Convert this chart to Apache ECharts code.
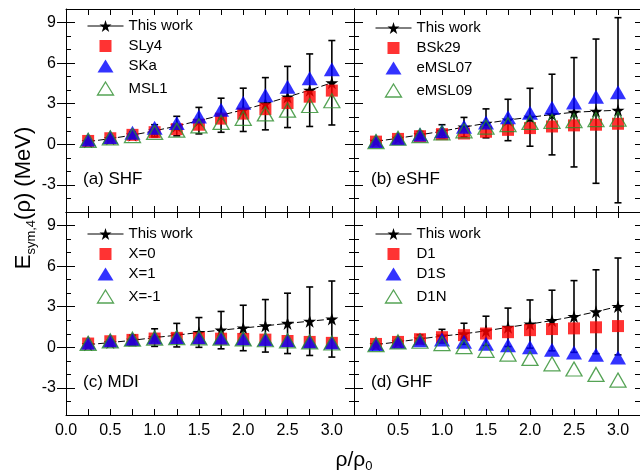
<!DOCTYPE html>
<html>
<head>
<meta charset="utf-8">
<script src="https://cdn.jsdelivr.net/npm/echarts@6/dist/echarts.min.js"></script>
<style>
    html, body { margin:0; padding:0; background:#fff; }
    #chart { width:640px; height:474px; }
</style>
</head>
<body>
<div id="chart"></div>
<script>
// density points rho/rho0
var densities = [0.25, 0.5, 0.75, 1.0, 1.25, 1.5, 1.75, 2.0, 2.25, 2.5, 2.75, 3.0];
var xLabelsLeft = [0, 0.5, 1.0, 1.5, 2.0, 2.5, 3.0];
var xLabelsRight = [0.5, 1.0, 1.5, 2.0, 2.5, 3.0];
var yLabels = [-3, 0, 3, 6, 9];

// (a) SHF
var shfWork = [0.2, 0.42, 0.68, 1.0, 1.35, 1.75, 2.15, 2.55, 3.0, 3.5, 4.0, 4.55];
var shfErr  = [0.12, 0.15, 0.25, 0.45, 0.72, 0.98, 1.26, 1.6, 1.93, 2.26, 2.68, 3.12];
var sly4 = [0.25, 0.45, 0.7, 0.9, 1.12, 1.45, 1.9, 2.27, 2.6, 3.05, 3.52, 3.97];
var ska  = [0.35, 0.55, 0.85, 1.22, 1.57, 2.05, 2.55, 3.07, 3.62, 4.25, 4.88, 5.55];
var msl1 = [0.3, 0.48, 0.65, 0.88, 1.05, 1.36, 1.62, 1.92, 2.25, 2.52, 2.87, 3.22];

// (b) eSHF
var eshfWork = [0.22, 0.45, 0.7, 0.97, 1.27, 1.55, 1.8, 2.0, 2.2, 2.37, 2.45, 2.52];
var eshfErr  = [0.08, 0.13, 0.25, 0.48, 0.72, 1.07, 1.53, 2.14, 2.98, 4.04, 5.33, 6.84];
var bsk29   = [0.2, 0.4, 0.6, 0.75, 0.8, 0.93, 1.07, 1.2, 1.32, 1.4, 1.45, 1.52];
var emsl07  = [0.25, 0.45, 0.72, 0.97, 1.3, 1.62, 2.0, 2.33, 2.7, 3.1, 3.52, 3.85];
var emsl09  = [0.2, 0.45, 0.65, 0.85, 1.0, 1.27, 1.45, 1.62, 1.7, 1.75, 1.82, 1.87];

// (c) MDI
var mdiWork = [0.2, 0.35, 0.52, 0.72, 0.9, 1.1, 1.27, 1.43, 1.59, 1.77, 1.93, 2.09];
var mdiErr  = [0.12, 0.2, 0.38, 0.65, 0.87, 1.1, 1.38, 1.68, 1.94, 2.23, 2.53, 2.81];
var mdiX0   = [0.28, 0.45, 0.55, 0.65, 0.7, 0.68, 0.64, 0.62, 0.57, 0.47, 0.4, 0.33];
var mdiX1   = [0.33, 0.5, 0.62, 0.72, 0.76, 0.74, 0.71, 0.66, 0.59, 0.52, 0.44, 0.35];
var mdiXm1  = [0.3, 0.47, 0.6, 0.68, 0.72, 0.7, 0.68, 0.62, 0.56, 0.48, 0.4, 0.32];

// (d) GHF
var ghfWork = [0.2, 0.4, 0.62, 0.83, 1.0, 1.22, 1.48, 1.72, 1.98, 2.28, 2.63, 3.02];
var ghfErr  = [0.1, 0.15, 0.3, 0.5, 0.78, 1.08, 1.42, 1.78, 2.24, 2.65, 3.1, 3.58];
var d1  = [0.25, 0.4, 0.6, 0.75, 0.9, 1.02, 1.12, 1.27, 1.35, 1.4, 1.48, 1.57];
var d1s = [0.25, 0.42, 0.52, 0.57, 0.42, 0.27, 0.15, 0.0, -0.18, -0.38, -0.55, -0.75];
var d1n = [0.2, 0.4, 0.45, 0.28, 0.05, -0.22, -0.5, -0.82, -1.22, -1.6, -2.0, -2.42];

var FONT = 'Liberation Sans, Arial, Helvetica, sans-serif';
var RED = '#ff0000', BLUE = '#0000ff', GREEN = '#2a8c2a';
var STAR = 'path://M50,0 L61.2,34.5 L97.6,34.5 L68.2,55.9 L79.4,90.5 L50,69.1 L20.6,90.5 L31.8,55.9 L2.4,34.5 L38.8,34.5 Z';
// legend icons keep aspect; the leading moves pad the box so the marks come out marker-sized
var SQUARE_ICON = 'path://M-1.25,-1.25 M11.25,11.25 M0,0 L10,0 L10,10 L0,10 Z';
var TRI_ICON = 'path://M-1,0 M17,15 M8,1 L16,14 L0,14 Z';

var panels = [
    {left:66,  top:9,   tag:'(a) SHF',  names:['SLy4','SKa','MSL1'],    work:shfWork,  err:shfErr,  sets:[sly4, ska, msl1],        legTop:18.5, bottom:false, right:false},
    {left:354, top:9,   tag:'(b) eSHF', names:['BSk29','eMSL07','eMSL09'], work:eshfWork, err:eshfErr, sets:[bsk29, emsl07, emsl09], legTop:20.5, bottom:false, right:true},
    {left:66,  top:212, tag:'(c) MDI',  names:['X=0','X=1','X=-1'],     work:mdiWork,  err:mdiErr,  sets:[mdiX0, mdiX1, mdiXm1],  legTop:226.5, bottom:true, right:false},
    {left:354, top:212, tag:'(d) GHF',  names:['D1','D1S','D1N'],       work:ghfWork,  err:ghfErr,  sets:[d1, d1s, d1n],          legTop:226.5, bottom:true, right:true}
];

function renderErr(params, api) {
    var lo = api.coord([api.value(0), api.value(1)]);
    var hi = api.coord([api.value(0), api.value(2)]);
    var cap = 3.5;
    var st = {stroke:'#000', lineWidth:1.6};
    return {type:'group', children:[
        {type:'line', shape:{x1:lo[0], y1:lo[1], x2:hi[0], y2:hi[1]}, style:st},
        {type:'line', shape:{x1:lo[0]-cap, y1:lo[1], x2:lo[0]+cap, y2:lo[1]}, style:st},
        {type:'line', shape:{x1:hi[0]-cap, y1:hi[1], x2:hi[0]+cap, y2:hi[1]}, style:st}
    ]};
}

var grids = [], xAxes = [], yAxes = [], series = [], legends = [], graphics = [];
var axisLine = {show:true, onZero:false, lineStyle:{color:'#000', width:1}};

panels.forEach(function(p, i) {
    grids.push({left:p.left, top:p.top, width:288, height:203});

    ['bottom','top'].forEach(function(pos) {
        xAxes.push({
            gridIndex:i, type:'value', min:0, max:3.25, interval:0.25, position:pos,
            axisLine:axisLine,
            axisTick:{inside:true, length:6, lineStyle:{color:'#000'}},
            axisLabel:{
                show: pos === 'bottom' && p.bottom,
                customValues: p.right ? xLabelsRight : xLabelsLeft,
                formatter:function(v){ return v.toFixed(1); },
                color:'#000', fontSize:16, fontFamily:FONT, margin:8
            },
            splitLine:{show:false}
        });
    });

    ['left','right'].forEach(function(pos) {
        // minor ticks every 1 MeV, with axis line
        yAxes.push({
            gridIndex:i, type:'value', min:-5, max:10, interval:1, position:pos,
            axisLine:axisLine,
            axisTick:{inside:true, length:5, lineStyle:{color:'#000'}},
            axisLabel:{
                show: pos === 'left' && !p.right,
                customValues: yLabels,
                color:'#000', fontSize:16, fontFamily:FONT, margin:10
            },
            splitLine:{show:false}
        });
        // major ticks
        yAxes.push({
            gridIndex:i, type:'value', min:-5, max:10, interval:1, position:pos,
            axisLine:{show:false},
            axisTick:{inside:true, length:9, customValues:yLabels, lineStyle:{color:'#000'}},
            axisLabel:{show:false},
            splitLine:{show:false}
        });
    });

    var xi = i * 2, yi = i * 4;
    series.push({
        type:'custom', name:'err' + i, xAxisIndex:xi, yAxisIndex:yi, silent:true, z:1,
        data: densities.map(function(x, k){ return [x, p.work[k] - p.err[k], p.work[k] + p.err[k]]; }),
        encode:{x:0, y:[1,2]},
        renderItem:renderErr
    });
    series.push({
        type:'line', name:'This work', xAxisIndex:xi, yAxisIndex:yi, z:2,
        data: densities.map(function(x, k){ return [x, p.work[k]]; }),
        symbol:STAR, symbolSize:13, itemStyle:{color:'#000'},
        lineStyle:{color:'#000', width:1, type:[7,3]}
    });
    series.push({
        type:'scatter', name:p.names[0], xAxisIndex:xi, yAxisIndex:yi, z:3,
        data: densities.map(function(x, k){ return [x, p.sets[0][k]]; }),
        symbol:'rect', symbolSize:12, itemStyle:{color:RED}
    });
    series.push({
        type:'scatter', name:p.names[1], xAxisIndex:xi, yAxisIndex:yi, z:4,
        data: densities.map(function(x, k){ return [x, p.sets[1][k]]; }),
        symbol:'triangle', symbolSize:[16,14], itemStyle:{color:BLUE}
    });
    series.push({
        type:'scatter', name:p.names[2], xAxisIndex:xi, yAxisIndex:yi, z:5,
        data: densities.map(function(x, k){ return [x, p.sets[2][k]]; }),
        symbol:'triangle', symbolSize:[16,14],
        itemStyle:{color:'none', borderColor:GREEN, borderWidth:1.3}
    });

    legends.push({
        orient:'vertical', left:p.left + 21, top:p.legTop, padding:0,
        itemWidth:36, itemHeight:15, itemGap:5, selectedMode:false,
        textStyle:{fontSize:15, color:'#000', fontFamily:FONT},
        lineStyle:{type:'solid', width:1, color:'#000'},
        data:[
            {name:'This work'},
            {name:p.names[0], icon:SQUARE_ICON, itemStyle:{color:RED}},
            {name:p.names[1], icon:TRI_ICON, itemStyle:{color:BLUE}},
            {name:p.names[2], icon:TRI_ICON, itemStyle:{color:'none', borderColor:GREEN, borderWidth:1.3}}
        ]
    });

    graphics.push({
        type:'text', left:p.left + 17, top:p.top + 162,
        style:{text:p.tag, fill:'#000', fontSize:17, fontFamily:FONT}
    });
});

// axis titles
graphics.push({
    type:'text', x:24, y:198, rotation:Math.PI / 2,
    style:{
        text:'{m|E}{s|sym,4}{m|(ρ) (MeV)}',
        align:'center', verticalAlign:'middle',
        rich:{
            m:{fontSize:22, fontFamily:FONT, fill:'#000', lineHeight:27},
            s:{fontSize:13, fontFamily:FONT, fill:'#000', lineHeight:13, verticalAlign:'bottom'}
        }
    }
});
graphics.push({
    type:'text', x:354, y:460,
    style:{
        text:'{m|ρ/ρ}{s|0}',
        align:'center', verticalAlign:'middle',
        rich:{
            m:{fontSize:21, fontFamily:FONT, fill:'#000', lineHeight:26},
            s:{fontSize:13, fontFamily:FONT, fill:'#000', lineHeight:13, verticalAlign:'bottom'}
        }
    }
});

var myChart = echarts.init(document.getElementById('chart'), null, {renderer:'canvas'});
myChart.setOption({
    animation:false,
    backgroundColor:'#fff',
    grid:grids,
    xAxis:xAxes,
    yAxis:yAxes,
    legend:legends,
    series:series,
    graphic:graphics
});
</script>
</body>
</html>
